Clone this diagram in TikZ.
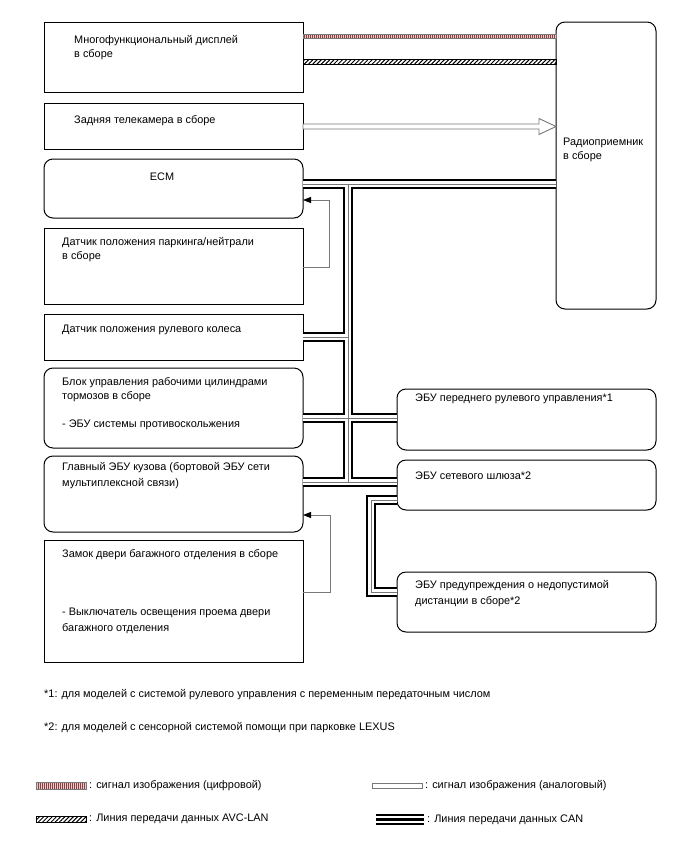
\documentclass[tikz,border=0pt]{standalone}
\usepackage{fontspec}
\setmainfont{Liberation Sans}
\usepackage{tikz}
\usetikzlibrary{positioning, calc, patterns.meta, arrows.meta}
\definecolor{digi}{RGB}{125,70,70}
\definecolor{digibg}{RGB}{225,205,205}
\definecolor{wire}{RGB}{120,120,120}
\tikzstyle{fb} = [wire, line width=0.9pt, -{Triangle[length=8pt,width=6pt,color=black]}]
\tikzset{
  box/.style={draw, line width=1pt, minimum width=259pt, anchor=north west, inner sep=0pt, outer sep=0pt},
  rbox/.style={box, rounded corners=9pt},
  lbl/.style={anchor=north west, align=left, inner sep=0pt, font=\fontsize{10.9}{14}\selectfont},
  note/.style={anchor=west, inner sep=0pt, font=\fontsize{10.9}{14}\selectfont},
  canout/.style={line width=10pt, black, line join=miter},
  canin/.style={line width=6pt, white, line join=miter},
  canmid/.style={line width=0.7pt, wire, line join=miter},
  digital/.style={draw=wire, line width=0.5pt, preaction={fill=digibg},
    pattern={Lines[angle=90, distance=2pt, line width=1pt]}, pattern color=digi},
  avclan/.style={draw=black, line width=0.5pt,
    pattern={Lines[angle=45, distance=3pt, line width=1pt]}},
  analog/.style={draw=wire, fill=white, line width=0.9pt, line join=miter}
}
% bus path, drawn three times
\newcommand{\canbus}[1]{
  \draw[#1] (c1) -- (c1 -| radio.west);
  \draw[#1] (vt) -- (vt |- b1);
  \draw[#1] (s1) -- (s1 -| vt);
  \draw[#1] (br1) -- (br1 -| front.west);
  \draw[#1] (b1) -- (b1 -| gw.west);
  \draw[#1] (g1) -- ++(-26pt,0) |- (w1);
}

\begin{document}
\begin{tikzpicture}[x=1pt, y=-1pt]
  \useasboundingbox[fill=white] (0,0) rectangle (688,852);

  % left column
  \node[box, minimum height=70pt] (disp) at (44,22) {};
  \node[box, minimum height=46pt, below=11pt of disp.south west, anchor=north west] (cam) {};
  \node[rbox, minimum height=59pt, below=10pt of cam.south west, anchor=north west] (ecm) {};
  \node[box, minimum height=76pt, below=10pt of ecm.south west, anchor=north west] (park) {};
  \node[box, minimum height=46pt, below=10pt of park.south west, anchor=north west] (steer) {};
  \node[rbox, minimum height=80pt, below=8pt of steer.south west, anchor=north west] (brake) {};
  \node[rbox, minimum height=76pt, below=8pt of brake.south west, anchor=north west] (body) {};
  \node[box, minimum height=122pt, below=8pt of body.south west, anchor=north west] (trunk) {};

  % right column
  \node[rbox, minimum width=100pt, minimum height=287pt] (radio) at (556,22) {};
  \node[rbox, minimum height=61pt] (front) at (397,389) {};
  \node[rbox, minimum height=50pt, below=10pt of front.south west, anchor=north west] (gw) {};
  \node[rbox, minimum height=60pt, below=62pt of gw.south west, anchor=north west] (warn) {};

  % texts
  \node[lbl] (displ) at ([shift={(30pt,-13pt)}]disp.north west) {Многофункциональный дисплей\\в сборе};
  \node[lbl] (caml) at ([shift={(30pt,-12pt)}]cam.north west) {Задняя телекамера в сборе};
  \node[lbl, anchor=center] (ecml) at ([shift={(118pt,-18pt)}]ecm.north west) {ECM};
  \node[lbl] (parkl) at ([shift={(18pt,-9pt)}]park.north west) {Датчик положения паркинга/нейтрали\\в сборе};
  \node[lbl] (steerl) at ([shift={(18pt,-11pt)}]steer.north west) {Датчик положения рулевого колеса};
  \node[lbl] (brakel) at ([shift={(18pt,-9pt)}]brake.north west) {Блок управления рабочими цилиндрами\\тормозов в сборе\\[14pt]- ЭБУ системы противоскольжения};
  \node[lbl] (bodyl) at ([shift={(18pt,-6pt)}]body.north west) {Главный ЭБУ кузова (бортовой ЭБУ сети\\[2pt]мультиплексной связи)};
  \node[lbl] (trunkl) at ([shift={(18pt,-9pt)}]trunk.north west) {Замок двери багажного отделения в сборе};
  \node[lbl] (trunkm) at ([shift={(18pt,-68pt)}]trunk.north west) {- Выключатель освещения проема двери\\[2pt]багажного отделения};
  \node[lbl] (radiol) at ([shift={(7pt,-116pt)}]radio.north west) {Радиоприемник\\в сборе};
  \node[lbl] (frontl) at ([shift={(18pt,-5pt)}]front.north west) {ЭБУ переднего рулевого управления*1};
  \node[lbl] (gwl) at ([shift={(18pt,-12pt)}]gw.north west) {ЭБУ сетевого шлюза*2};
  \node[lbl] (warnl) at ([shift={(18pt,-8pt)}]warn.north west) {ЭБУ предупреждения о недопустимой\\[2pt]дистанции в сборе*2};

  % image and AVC-LAN lines
  \coordinate (dg1) at ([yshift=-12.5pt]disp.north east);
  \coordinate (dg2) at ([yshift=-16.5pt]disp.north east);
  \coordinate (av1) at ([yshift=-37.5pt]disp.north east);
  \coordinate (av2) at ([yshift=-42pt]disp.north east);
  \path[digital] (dg1) rectangle (dg2 -| radio.west);
  \path[avclan] (av1) rectangle (av2 -| radio.west);

  \coordinate (an) at ([yshift=-23.5pt]cam.north east);
  \coordinate (tip) at (an -| radio.west);
  \draw[analog] ([yshift=2.5pt]an) -- ([shift={(-17pt,2.5pt)}]tip) -- ([shift={(-17pt,8pt)}]tip)
    -- (tip) -- ([shift={(-17pt,-8pt)}]tip) -- ([shift={(-17pt,-2.5pt)}]tip) -- ([yshift=-2.5pt]an) -- cycle;

  % CAN bus
  \coordinate (c1) at ([yshift=-25pt]ecm.north east);
  \coordinate (vt) at ([xshift=45pt]c1);
  \coordinate (s1) at ([yshift=-23pt]steer.north east);
  \coordinate (br1) at ([yshift=-50pt]brake.north east);
  \coordinate (b1) at ([yshift=-26pt]body.north east);
  \coordinate (g1) at ([yshift=-40pt]gw.north west);
  \coordinate (w1) at ([yshift=-20pt]warn.north west);
  \canbus{canout}
  \canbus{canin}
  \canbus{canmid}

  % switch signals
  \draw[fb] ([yshift=-39pt]park.north east) -- ++(26pt,0) |- ([yshift=-41pt]ecm.north east);
  \draw[fb] ([yshift=-52pt]trunk.north east) -- ++(27pt,0) |- ([yshift=-59pt]body.north east);

  % notes
  \node[note] (n1) at (44,695) {*1: для моделей с системой рулевого управления с переменным передаточным числом};
  \node[note] (n2) at (44,728) {*2: для моделей с сенсорной системой помощи при парковке LEXUS};

  % legend
  \path[digital] (36,782) rectangle (86,789);
  \node[note] (lg1) at (89,785.5) {: сигнал изображения (цифровой)};
  \path[avclan] (36,816) rectangle (86,822);
  \node[note] (lg2) at (89,819) {: Линия передачи данных AVC-LAN};
  \draw[analog] (372,783) rectangle (422,788);
  \node[note] (lg3) at (425,785.5) {: сигнал изображения (аналоговый)};
  \fill[black] (376,813.5) rectangle (424,816);
  \fill[black] (376,818) rectangle (424,820.5);
  \fill[black] (376,822.5) rectangle (424,825);
  \node[note] (lg4) at (427,819.5) {: Линия передачи данных CAN};
\end{tikzpicture}
\end{document}
